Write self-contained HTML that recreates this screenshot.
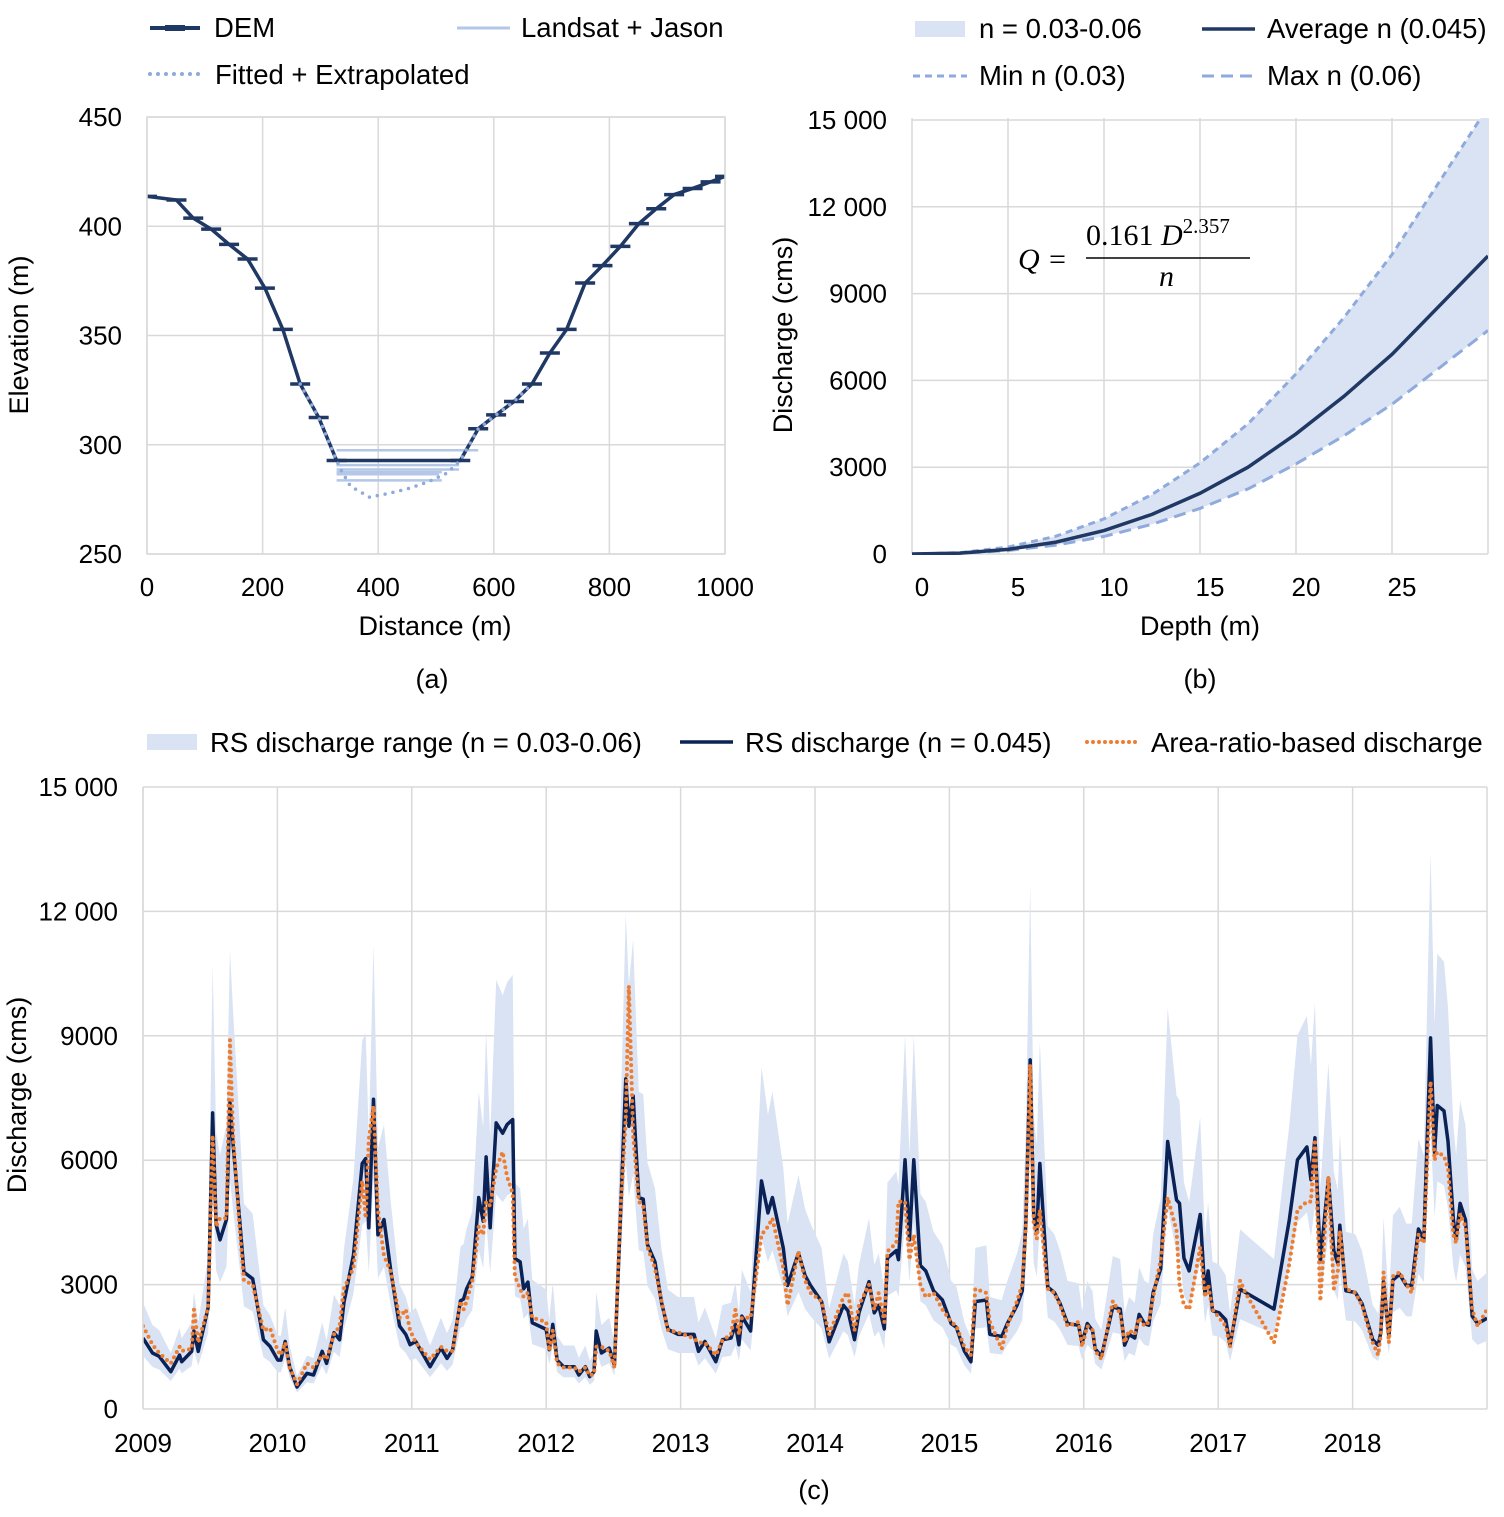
<!DOCTYPE html>
<html><head><meta charset="utf-8"><style>
html,body{margin:0;padding:0;background:#fff;}
svg text{font-family:"Liberation Sans",Arial,sans-serif;fill:#000;}
</style></head><body>
<svg id="fig" width="1504" height="1512" viewBox="0 0 1504 1512" xmlns="http://www.w3.org/2000/svg">
<defs>
<clipPath id="clipA"><rect x="147" y="100" width="578" height="455"/></clipPath>
<clipPath id="clipB"><rect x="912" y="118" width="576" height="437"/></clipPath>
<clipPath id="clipC"><rect x="143" y="787" width="1344" height="624"/></clipPath>
</defs>
<g id="pa"></g>
<g id="pb"></g>
<g id="pc"></g>
</svg>
<script>
// ---------- Panel (a) data ----------
const demDist = [0,51,80,111,142,174,204,235,265,297,328,542,573,604,635,666,697,726,758,788,819,851,881,912,944,975,1000];
const demElev = [413.7,412,403.7,398.7,391.7,385,371.7,352.8,327.8,312.5,292.8,292.8,307.3,313.7,319.8,327.8,342,352.8,374,382,390.8,401.2,408,414.5,417.3,420.3,422.8];
const fitDist = [265,297,328,336,352,385,419,453,486,519,542,573,604,635,666];
const fitElev = [327.8,312.5,292.8,288.3,281,276,277.8,280,283,287,292.8,307.3,313.7,319.8,327.8];
const lsElev = [297.5,290.7,288.7,287.5,286.5,283.7];
const lsStart = [328,328,328,328,328,328];
const lsEnd = [573,540,540,510,505,510];
const aXTicks = [0,200,400,600,800,1000];
const aYTicks = [250,300,350,400,450];
// ---------- Panel (b) data ----------
const depth = [0,2.5,5,7.5,10,12.5,15,17.5,20,22.5,25,27.5,30];
const avgQ = [0,30,160,410,810,1370,2100,3000,4150,5450,6900,8600,10300];
const minNQ = [0,45,240,615,1215,2055,3150,4500,6225,8175,10350,12900,15450];
const maxNQ = [0,23,120,308,608,1028,1575,2250,3113,4088,5175,6450,7725];
const bXTicks = [0,5,10,15,20,25];
const bYTicks = [0,3000,6000,9000,12000,15000];
const bYLabels = ["0","3000","6000","9000","12 000","15 000"];
// ---------- Panel (c) data ----------
const dates = [2009.000,2009.071,2009.120,2009.207,2009.272,2009.288,2009.362,2009.379,2009.411,2009.485,2009.518,2009.544,2009.573,2009.621,2009.647,2009.670,2009.718,2009.751,2009.816,2009.896,2009.945,
2010.003,2010.026,2010.058,2010.091,2010.146,2010.220,2010.269,2010.333,2010.366,2010.421,2010.463,2010.495,2010.566,2010.631,2010.657,2010.680,2010.715,2010.748,2010.793,2010.845,2010.909,2010.955,2010.987,
2011.029,2011.136,2011.217,2011.262,2011.304,2011.362,2011.385,2011.408,2011.450,2011.476,2011.498,2011.531,2011.553,2011.583,2011.628,2011.676,2011.709,2011.751,2011.767,2011.806,2011.832,2011.864,2011.896,
2012.000,2012.023,2012.049,2012.081,2012.129,2012.210,2012.243,2012.291,2012.324,2012.356,2012.372,2012.411,2012.469,2012.508,2012.550,2012.592,2012.615,2012.647,2012.663,2012.689,2012.722,2012.754,2012.809,2012.858,2012.906,2012.981,
2013.100,2013.133,2013.181,2013.262,2013.311,2013.375,2013.408,2013.434,2013.456,2013.521,2013.602,2013.650,2013.683,2013.764,2013.796,2013.877,2013.926,2013.967,
2014.049,2014.105,2014.212,2014.245,2014.294,2014.327,2014.402,2014.441,2014.474,2014.516,2014.539,2014.605,2014.621,2014.670,2014.703,2014.735,2014.784,2014.824,2014.882,2014.948,
2015.013,2015.052,2015.111,2015.160,2015.193,2015.275,2015.301,2015.389,2015.431,2015.503,2015.542,2015.569,2015.601,2015.627,2015.650,2015.673,2015.732,2015.781,2015.824,2015.879,2015.961,2015.987,
2016.026,2016.065,2016.085,2016.131,2016.216,2016.271,2016.304,2016.337,2016.379,2016.412,2016.451,2016.484,2016.516,2016.572,2016.624,2016.690,2016.712,2016.745,2016.784,2016.866,2016.902,2016.925,2016.958,
2017.007,2017.056,2017.088,2017.163,2017.203,2017.415,2017.529,2017.590,2017.660,2017.690,2017.720,2017.760,2017.820,2017.860,2017.890,2017.905,2017.950,
2018.020,2018.070,2018.150,2018.190,2018.210,2018.230,2018.270,2018.300,2018.350,2018.400,2018.440,2018.490,2018.530,2018.580,2018.610,2018.630,2018.680,2018.710,2018.750,2018.770,2018.800,2018.840,2018.890,2018.930,2019.000];
// RS discharge (n = 0.045), thousand cms
const rsQk = [1.71,1.35,1.27,0.90,1.30,1.14,1.39,1.88,1.39,2.45,7.14,4.45,4.08,4.57,7.39,6.40,4.60,3.30,3.14,1.67,1.51,
1.18,1.18,1.63,1.02,0.53,0.86,0.82,1.39,1.10,1.84,1.67,2.57,3.71,5.92,6.04,4.37,7.47,4.20,4.57,3.30,2.00,1.80,1.55,
1.63,1.02,1.47,1.22,1.43,2.61,2.65,2.90,3.18,4.20,5.10,4.53,6.08,4.37,6.90,6.65,6.86,6.98,3.63,3.55,2.90,3.06,2.08,
1.92,1.43,2.04,1.18,1.02,1.02,0.82,1.02,0.78,0.90,1.88,1.35,1.47,1.06,4.45,7.96,6.82,7.55,6.57,5.10,5.06,3.96,3.55,2.57,1.92,1.80,
1.80,1.39,1.63,1.14,1.67,1.71,2.04,1.55,2.24,1.88,5.50,4.73,5.10,3.88,2.98,3.76,3.22,2.98,
2.59,1.62,2.50,2.37,1.67,2.32,3.07,2.32,2.50,1.93,3.64,3.82,3.60,6.01,4.08,6.01,3.46,3.33,2.85,2.63,
2.06,1.97,1.40,1.14,2.59,2.63,1.80,1.75,2.06,2.50,2.85,4.52,8.42,4.69,4.25,5.92,2.94,2.81,2.54,2.06,2.02,1.58,
2.06,1.89,1.45,1.27,2.46,2.41,1.54,1.80,1.71,2.28,2.06,2.02,2.81,3.38,6.45,5.04,4.96,3.64,3.33,4.69,2.76,3.33,2.37,
2.32,2.15,1.54,2.89,2.81,2.41,4.56,6.01,6.32,5.53,6.54,3.55,5.57,3.82,3.51,4.43,2.85,
2.81,2.54,1.67,1.54,1.84,3.07,1.75,3.11,3.25,2.98,2.98,4.34,4.08,8.95,6.18,7.32,7.19,6.45,4.56,4.08,4.96,4.56,2.24,2.06,2.19];
// Area-ratio-based discharge, thousand cms
const areaQk = [2.00,1.55,1.35,1.10,1.50,1.40,1.45,2.40,1.60,2.45,6.60,4.40,4.60,4.60,8.90,6.60,4.40,3.10,3.00,1.90,1.95,
1.40,1.30,1.60,1.00,0.60,1.10,1.00,1.30,1.20,1.80,2.00,2.90,3.40,5.50,4.60,6.50,7.30,4.80,3.70,3.30,2.20,2.40,1.90,
1.60,1.20,1.50,1.40,1.40,2.60,2.40,2.60,3.10,3.80,4.40,4.20,5.00,4.90,5.80,6.20,5.60,5.20,3.20,2.90,2.70,2.80,2.20,
2.10,1.40,1.90,1.10,1.00,1.00,0.90,1.00,0.80,0.85,1.50,1.50,1.40,1.00,4.60,7.00,10.2,6.60,6.00,5.00,4.90,3.90,3.40,2.60,1.90,1.85,
1.70,1.60,1.60,1.30,1.65,1.80,2.40,1.80,2.20,2.20,4.20,4.40,4.60,3.40,2.50,3.80,3.10,2.80,
2.60,1.80,2.70,2.80,1.90,2.50,3.00,2.40,2.80,2.10,3.80,4.00,5.00,5.00,3.60,4.20,3.00,2.70,2.80,2.40,
2.10,2.00,1.50,1.30,2.90,2.80,2.10,1.45,2.00,2.60,3.00,4.40,8.30,4.50,4.10,4.80,2.90,2.80,2.50,2.00,2.10,1.50,
2.00,1.90,1.40,1.20,2.60,2.30,1.60,1.90,1.80,2.20,2.00,2.10,2.70,3.60,5.10,4.30,3.00,2.50,2.40,3.90,2.70,3.00,2.40,
2.20,2.00,1.50,3.10,2.80,1.60,3.50,4.80,5.00,5.00,6.50,2.60,5.60,2.90,3.30,4.30,2.90,
2.80,2.50,1.60,1.30,1.80,3.30,1.60,3.20,3.30,3.00,2.80,4.20,4.00,7.90,6.00,6.20,6.10,5.80,4.20,4.00,4.70,4.40,2.40,2.00,2.40];
const nMid = 0.045;
const nMin = 0.03;
const nMax = 0.06;
const cYearTicks = [2009,2010,2011,2012,2013,2014,2015,2016,2017,2018];
const cYTicks = [0,3000,6000,9000,12000,15000];
const cYLabels = ["0","3000","6000","9000","12 000","15 000"];

const NS = "http://www.w3.org/2000/svg";
const TFS = 26;
function mk(parent, tag, attrs, text){
  const e = document.createElementNS(NS, tag);
  for (const k in attrs) e.setAttribute(k, attrs[k]);
  if (text !== undefined) e.textContent = text;
  parent.appendChild(e);
  return e;
}
const GRID = "#d9d9d9";
const pa = document.getElementById('pa');
const pb = document.getElementById('pb');
const pc = document.getElementById('pc');

// ===== Panel A =====
const ax = d => 147 + d * 0.578;
const ay = v => 554 - (v - 250) * (437 / 200);
aYTicks.forEach(v => {
  const l = mk(pa, 'line', {x1:147, x2:725, y1:ay(v), y2:ay(v), stroke:GRID, 'stroke-width':1.5});
  
  
  const t = mk(pa, 'text', {x:122, y:ay(v)+9, 'text-anchor':'end', 'font-size':TFS}, String(v));
  
  
});
aXTicks.forEach(v => {
  const l = mk(pa, 'line', {x1:ax(v), x2:ax(v), y1:117, y2:554, stroke:GRID, 'stroke-width':1.5});
  
  
  const t = mk(pa, 'text', {x:ax(v), y:596, 'text-anchor':'middle', 'font-size':TFS}, String(v));
  
  
});
{
  const g = mk(pa, 'g', {'clip-path':'url(#clipA)'});
  
  
  lsElev.forEach((v, i) => {
    const l = mk(g, 'line', {x1:ax(lsStart[i]), x2:ax(lsEnd[i]), y1:ay(v), y2:ay(v), stroke:'#b4c7e7', 'stroke-width':2.5});
    
    
  });
  const p = mk(g, 'polyline', {points: demDist.map((d,i)=>ax(d)+','+ay(demElev[i])).join(' '), fill:'none', stroke:'#203864', 'stroke-width':3.5, 'stroke-linejoin':'round'});
  
  
  demDist.forEach((d,i) => {
    const m = mk(g, 'line', {x1:ax(d)-10, x2:ax(d)+10, y1:ay(demElev[i]), y2:ay(demElev[i]), stroke:'#203864', 'stroke-width':3.5});
    
    
  });
  const f = mk(g, 'polyline', {points: fitDist.map((d,i)=>ax(d)+','+ay(fitElev[i])).join(' '), fill:'none', stroke:'#8faadc', 'stroke-width':3.5, 'stroke-dasharray':'0 8', 'stroke-linecap':'round'});
  
  
}
mk(pa, 'rect', {x:147, y:117, width:578, height:437, fill:'none', stroke:GRID, 'stroke-width':1.5,  });

// ===== Panel B =====
const bx = d => 912 + d * 19.2;
const by = q => 554 - q * (434 / 15000);
bYTicks.forEach((v, i) => {
  const l = mk(pb, 'line', {x1:912, x2:1488, y1:by(v), y2:by(v), stroke:GRID, 'stroke-width':1.5});
  
  
  const t = mk(pb, 'text', {x:887, y:by(v)+9, 'text-anchor':'end', 'font-size':TFS}, bYLabels[i]);
  
  
});
bXTicks.forEach(v => {
  const l = mk(pb, 'line', {x1:bx(v), x2:bx(v), y1:118, y2:554, stroke:GRID, 'stroke-width':1.5});
  
  
  const t = mk(pb, 'text', {x:bx(v)+10, y:596, 'text-anchor':'middle', 'font-size':TFS}, String(v));
  
  
});
mk(pb, 'line', {x1:1488, x2:1488, y1:118, y2:554, stroke:GRID, 'stroke-width':1.5,  });
{
  const g = mk(pb, 'g', {'clip-path':'url(#clipB)'});
  
  
  const up = depth.map((d,i)=>bx(d)+','+by(minNQ[i]));
  const dn = depth.map((d,i)=>bx(d)+','+by(maxNQ[i])).reverse();
  const band = mk(g, 'polygon', {points: up.concat(dn).join(' '), fill:'#dae3f3'});
  
  
  const l1 = mk(g, 'polyline', {points: up.join(' '), fill:'none', stroke:'#8faadc', 'stroke-width':3, 'stroke-dasharray':'7 5'});
  
  
  const l2 = mk(g, 'polyline', {points: depth.map((d,i)=>bx(d)+','+by(maxNQ[i])).join(' '), fill:'none', stroke:'#8faadc', 'stroke-width':3, 'stroke-dasharray':'12 7'});
  
  
  const l3 = mk(g, 'polyline', {points: depth.map((d,i)=>bx(d)+','+by(avgQ[i])).join(' '), fill:'none', stroke:'#203864', 'stroke-width':3.5});
  
  
}

// ===== Panel C =====
const cx = t => 143 + (t - 2009) * 134.4;
const cy = q => 1409 - q * (622 / 15000);
cYTicks.forEach((v, i) => {
  const l = mk(pc, 'line', {x1:143, x2:1487, y1:cy(v), y2:cy(v), stroke:GRID, 'stroke-width':1.5});
  
  
  const t = mk(pc, 'text', {x:118, y:cy(v)+9, 'text-anchor':'end', 'font-size':TFS}, cYLabels[i]);
  
  
});
cYearTicks.forEach(v => {
  const l = mk(pc, 'line', {x1:cx(v), x2:cx(v), y1:787, y2:1409, stroke:GRID, 'stroke-width':1.5});
  
  
  const t = mk(pc, 'text', {x:cx(v), y:1452, 'text-anchor':'middle', 'font-size':TFS}, String(v));
  
  
});
mk(pc, 'line', {x1:1487, x2:1487, y1:787, y2:1409, stroke:GRID, 'stroke-width':1.5,  });
{
  const g = mk(pc, 'g', {'clip-path':'url(#clipC)'});
  
  
  const hi = dates.map((t,i)=>cx(t)+','+cy(rsQk[i]*1000*nMid/nMin));
  const lo = dates.map((t,i)=>cx(t)+','+cy(rsQk[i]*1000*nMid/nMax)).reverse();
  const band = mk(g, 'polygon', {points: hi.concat(lo).join(' '), fill:'#dae3f3'});
  
  
  const rs = mk(g, 'polyline', {points: dates.map((t,i)=>cx(t)+','+cy(rsQk[i]*1000)).join(' '), fill:'none', stroke:'#0b2256', 'stroke-width':3.5, 'stroke-linejoin':'round'});
  
  
  const ar = mk(g, 'polyline', {points: dates.map((t,i)=>cx(t)+','+cy(areaQk[i]*1000)).join(' '), fill:'none', stroke:'#ed7d31', 'stroke-width':4, 'stroke-dasharray':'0 6', 'stroke-linecap':'round'});
  
  
}
mk(pc, 'line', {x1:143, x2:143, y1:787, y2:1409, stroke:GRID, 'stroke-width':1.5,  });
</script>

<svg style="position:absolute;left:0;top:0" width="1504" height="1512">
  <g>
    <line x1="150" y1="28" x2="200" y2="28" stroke="#203864" stroke-width="4"/>
    <line x1="165" y1="28" x2="185" y2="28" stroke="#203864" stroke-width="6"/>
    <text x="214" y="37" font-size="27.5">DEM</text>
    <line x1="457" y1="28" x2="510" y2="28" stroke="#b4c7e7" stroke-width="3"/>
    <text x="521" y="37" font-size="27.5">Landsat + Jason</text>
    <line x1="150" y1="74" x2="204" y2="74" stroke="#8faadc" stroke-width="4" stroke-dasharray="0 8" stroke-linecap="round"/>
    <text x="215" y="84" font-size="27.5">Fitted + Extrapolated</text>
  </g>
  <text x="28" y="335" font-size="27" text-anchor="middle" transform="rotate(-90 28 335)">Elevation (m)</text>
  <text x="435" y="635" font-size="27" text-anchor="middle">Distance (m)</text>
  <text x="432" y="688" font-size="27" text-anchor="middle">(a)</text>

  <g>
    <rect x="915" y="21" width="50" height="16" fill="#dae3f3"/>
    <text x="979" y="38" font-size="27.5">n = 0.03-0.06</text>
    <line x1="1202" y1="29" x2="1255" y2="29" stroke="#203864" stroke-width="3.5"/>
    <text x="1267" y="38" font-size="27.5">Average n (0.045)</text>
    <line x1="913" y1="76" x2="967" y2="76" stroke="#8faadc" stroke-width="3" stroke-dasharray="7 5"/>
    <text x="979" y="85" font-size="27.5">Min n (0.03)</text>
    <line x1="1202" y1="76" x2="1255" y2="76" stroke="#8faadc" stroke-width="3" stroke-dasharray="12 7"/>
    <text x="1267" y="85" font-size="27.5">Max n (0.06)</text>
  </g>
  <g>
    <text x="1018" y="269" font-size="30" font-style="italic" style="font-family:'Liberation Serif',serif">Q =</text>
    <text x="1086" y="245" font-size="30" style="font-family:'Liberation Serif',serif">0.161 <tspan font-style="italic">D</tspan><tspan font-size="21" dy="-12">2.357</tspan></text>
    <line x1="1086" y1="258" x2="1250" y2="258" stroke="#000" stroke-width="1.5"/>
    <text x="1159" y="286" font-size="30" font-style="italic" style="font-family:'Liberation Serif',serif">n</text>
  </g>
  <text x="792" y="335" font-size="27" text-anchor="middle" transform="rotate(-90 792 335)">Discharge (cms)</text>
  <text x="1200" y="635" font-size="27" text-anchor="middle">Depth (m)</text>
  <text x="1200" y="688" font-size="27" text-anchor="middle">(b)</text>

  <g>
    <rect x="147" y="734" width="50" height="16" fill="#dae3f3"/>
    <text x="210" y="752" font-size="27.5">RS discharge range (n = 0.03-0.06)</text>
    <line x1="680" y1="742" x2="733" y2="742" stroke="#0b2256" stroke-width="3.5"/>
    <text x="745" y="752" font-size="27.5">RS discharge (n = 0.045)</text>
    <line x1="1087" y1="742" x2="1140" y2="742" stroke="#ed7d31" stroke-width="4" stroke-dasharray="0 6" stroke-linecap="round"/>
    <text x="1151" y="752" font-size="27.5">Area-ratio-based discharge</text>
  </g>
  <text x="26" y="1095" font-size="27" text-anchor="middle" transform="rotate(-90 26 1095)">Discharge (cms)</text>
  <text x="814" y="1499" font-size="27" text-anchor="middle">(c)</text>
</svg>
</body></html>
